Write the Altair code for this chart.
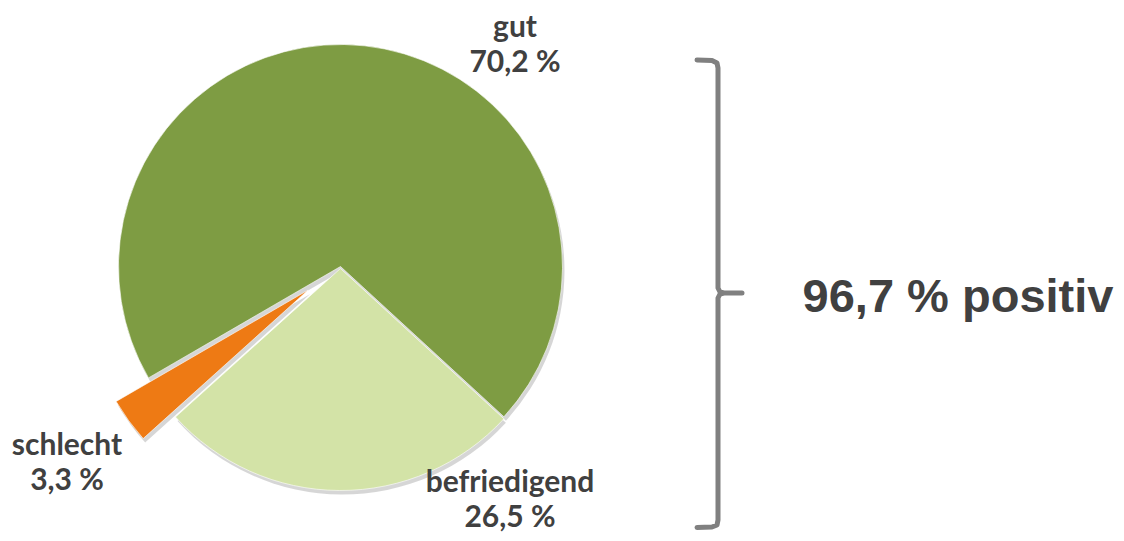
import math
import altair as alt
import pandas as pd

# ---- data ----
categories = ["befriedigend", "schlecht", "gut"]
values = [26.5, 3.3, 70.2]
colors = ["#D3E3A7", "#EE7A14", "#7E9C43"]

df = pd.DataFrame({"cat": categories, "value": values, "ord": list(range(len(categories)))})

A0 = math.radians(132.6)          # start angle of first slice (clockwise from 12 o'clock)
CX, CY, R = 332.5, 258.5, 222     # pie centre in chart pixels
TXT = "#404040"

base = alt.Chart(df).transform_window(
    cum="sum(value)", sort=[alt.SortField("ord")], frame=[None, 0]
).transform_calculate(
    start="datum.cum - datum.value",
    mid=f"{A0} + (datum.cum - datum.value/2) / 100 * 2 * PI",
    explode="datum.cat == 'schlecht' ? 40 : (datum.cat == 'befriedigend' ? 2 : 0)",
).transform_calculate(
    px=f"{CX} + datum.explode * sin(datum.mid)",
    py=f"{CY} - datum.explode * cos(datum.mid)",
)

theta_scale = alt.Scale(domain=[0, 100], range=[A0, A0 + 2 * math.pi])

shadow = base.mark_arc(radius=R, color="#000000", opacity=0.16).encode(
    x=alt.X("sx:Q", scale=None),
    y=alt.Y("sy:Q", scale=None),
    theta=alt.Theta("start:Q", scale=theta_scale),
    theta2="cum:Q",
).transform_calculate(sx="datum.px + 2", sy="datum.py + 4")

pie = base.mark_arc(radius=R, stroke="#ffffff", strokeWidth=1, strokeOpacity=0.6).encode(
    x=alt.X("px:Q", scale=None),
    y=alt.Y("py:Q", scale=None),
    theta=alt.Theta("start:Q", scale=theta_scale),
    theta2="cum:Q",
    color=alt.Color("cat:N", scale=alt.Scale(domain=categories, range=colors), legend=None),
)

labels = base.transform_calculate(
    lbl="[datum.cat, replace(format(datum.value, '.1f'), '.', ',') + ' %']",
    lx="datum.cat == 'gut' ? 507 : (datum.cat == 'schlecht' ? 59 : 502)",
    ly="datum.cat == 'gut' ? 29 : (datum.cat == 'schlecht' ? 447 : 484)",
).mark_text(
    font="Lato", fontWeight="bold", fontSize=30, color=TXT, align="center",
    baseline="alphabetic", lineHeight=35,
).encode(
    x=alt.X("lx:Q", scale=None),
    y=alt.Y("ly:Q", scale=None),
    text="lbl:N",
)

# brace (decoration)
brace_pts = [(689, 52), (704, 52.5), (709, 55), (710, 60), (710, 280), (712, 284), (716, 285),
             (734, 285), (716, 285), (712, 286), (710, 290), (710, 512), (709, 517), (704, 519), (689, 519.5)]
brace_df = pd.DataFrame({"bx": [p[0] for p in brace_pts], "by": [p[1] for p in brace_pts],
                         "i": list(range(len(brace_pts)))})
brace = alt.Chart(brace_df).mark_line(color="#808080", strokeWidth=5, strokeCap="round",
                                      strokeJoin="round").encode(
    x=alt.X("bx:Q", scale=None), y=alt.Y("by:Q", scale=None), order="i:Q")

positive = alt.Chart(df).transform_filter("datum.cat != 'schlecht'").transform_aggregate(
    total="sum(value)"
).transform_calculate(
    t="replace(format(datum.total, '.1f'), '.', ',') + ' % positiv'"
).mark_text(font="Liberation Sans", fontWeight="bold", fontSize=47, color=TXT,
            align="center", baseline="alphabetic").encode(
    x=alt.value(950), y=alt.value(304), text="t:N")

chart = alt.layer(shadow, pie, labels, brace, positive).properties(
    width=1108, height=525, padding=0, autosize="none"
).configure_view(stroke=None)

chart.save("out.html", embed_options={"renderer": "svg", "actions": False})
